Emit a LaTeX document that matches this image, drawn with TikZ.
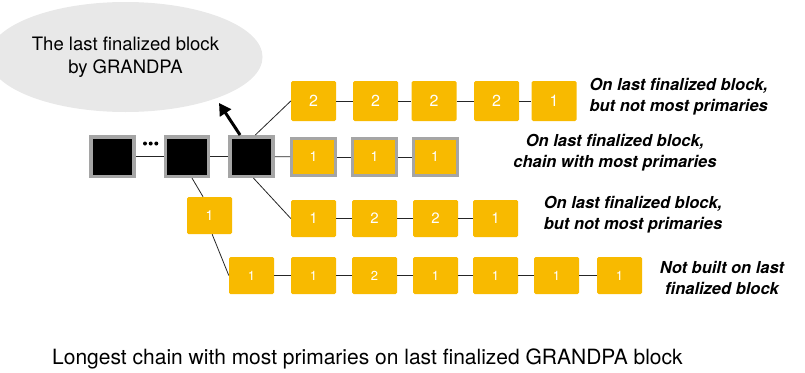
\documentclass[tikz,border=0pt]{standalone}
\usepackage{fontspec}
\setmainfont{TeX Gyre Heros}
\usetikzlibrary{arrows.meta,positioning,shapes.geometric}
\definecolor{blockyellow}{RGB}{248,186,0}
\definecolor{rimgray}{RGB}{165,165,165}
\definecolor{bubblegray}{RGB}{232,232,232}

\begin{document}
\begin{tikzpicture}[x=1pt,y=-1pt,
  blk/.style={fill=blockyellow,rounded corners=1.5pt,minimum width=45pt,minimum height=37pt,
    inner sep=0pt,text=white,font=\fontsize{14}{14}\selectfont},
  bestblk/.style={blk,draw=rimgray,line width=3pt,minimum width=44pt,minimum height=37pt,rounded corners=0pt},
  finblk/.style={fill=black,draw=rimgray,line width=3.5pt,minimum width=43pt,minimum height=39.5pt,inner sep=0pt},
  link/.style={black!85,line width=0.8pt},
  note/.style={font=\fontsize{16.5}{21}\selectfont\bfseries\itshape,align=center}]
  \useasboundingbox (0,0) rectangle (805,372);

  % finalized part of the chain
  \node[finblk] (fin1) at (112.5,156.5) {};
  \node[finblk] (fin2) at (187,156.5) {};
  \node[finblk] (fin3) at (251.5,156.5) {};
  \foreach \x in {145,150.7,156.3}
    \fill (\x,143.5) circle (2pt);
  \draw[link] (fin1) -- (fin2);
  \draw[link] (fin2) -- (fin3);

  % bubble and pointer
  \node[ellipse,fill=bubblegray,minimum width=235pt,minimum height=110pt,align=center,
    font=\fontsize{18.5}{23}\selectfont] (bubble) at (125.5,57) {The last finalized block\\by GRANDPA};
  \coordinate (pointer) at (219,103);
  \draw[line width=3pt,-{Triangle[length=12pt,width=13pt]}] (fin3.118) -- (pointer);

  % top chain
  \foreach \x/\v [count=\i] in {313.5/2,375.5/2,434/2,496.5/2,554/1}
    \node[blk,minimum height=40pt,font=\fontsize{16}{16}\selectfont] (top\i) at (\x,101) {\v};
  \draw[link] (fin3.80) -- (top1.west);
  \foreach \i [evaluate=\i as \j using int(\i+1)] in {1,...,4}
    \draw[link] (top\i) -- (top\j);

  % chain with most primaries
  \foreach \x [count=\i] in {313.5,374.5,435}
    \node[bestblk] (best\i) at (\x,157) {1};
  \draw[link] (fin3) -- (best1);
  \draw[link] (best1) -- (best2);
  \draw[link] (best2) -- (best3);

  % third chain
  \foreach \x/\v [count=\i] in {313.5/1,374.5/2,435.5/2,495.5/1}
    \node[blk,font=\fontsize{15}{15}\selectfont] (low\i) at (\x,218.5) {\v};
  \draw[link] (fin3.-85) -- (low1.west);
  \foreach \i [evaluate=\i as \j using int(\i+1)] in {1,...,3}
    \draw[link] (low\i) -- (low\j);

  % fork below the finalized block
  \node[blk] (side) at (209.5,215.5) {1};
  \draw[link] (fin2.-77) -- (side.109);
  \foreach \x/\v [count=\i] in {251.5/1,313.5/1,374.5/2,435.5/1,495.5/1,556.5/1,619.5/1}
    \node[blk,font=\fontsize{13}{13}\selectfont] (bot\i) at (\x,275.5) {\v};
  \draw[link] (side.-82) -- (bot1.west);
  \foreach \i [evaluate=\i as \j using int(\i+1)] in {1,...,6}
    \draw[link] (bot\i) -- (bot\j);

  % labels
  \node[note,align=left,anchor=west] (topnote) at (586,96.5) {On last finalized block,\\but not most primaries};
  \node[note] (bestnote) at (615,153) {On last finalized block,\\chain with most primaries};
  \node[note] (lownote) at (633,215) {On last finalized block,\\but not most primaries};
  \node[note] (botnote) at (722,277.5) {Not built on last\\finalized block};

  \node[anchor=base west,inner sep=0pt,font=\fontsize{21}{21}\selectfont] (caption) at (52,364)
    {Longest chain with most primaries on last finalized GRANDPA block};
\end{tikzpicture}
\end{document}
